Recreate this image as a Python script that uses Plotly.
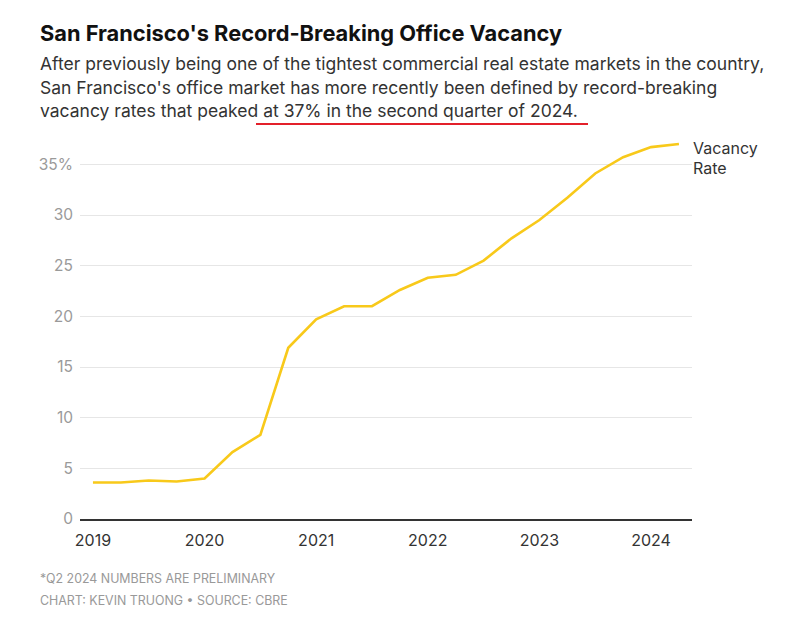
import plotly.graph_objects as go

quarters = ["2019 Q1", "2019 Q2", "2019 Q3", "2019 Q4",
            "2020 Q1", "2020 Q2", "2020 Q3", "2020 Q4",
            "2021 Q1", "2021 Q2", "2021 Q3", "2021 Q4",
            "2022 Q1", "2022 Q2", "2022 Q3", "2022 Q4",
            "2023 Q1", "2023 Q2", "2023 Q3", "2023 Q4",
            "2024 Q1", "2024 Q2"]
vacancy_rate = [3.6, 3.6, 3.8, 3.7,
                4.0, 6.6, 8.3, 16.9,
                19.7, 21.0, 21.0, 22.6,
                23.8, 24.1, 25.5, 27.7,
                29.5, 31.7, 34.1, 35.7,
                36.7, 37.0]
x_ticks = [2019, 2020, 2021, 2022, 2023, 2024]
y_ticks = [0, 5, 10, 15, 20, 25, 30, 35]
y_ticktext = ["0", "5", "10", "15", "20", "25", "30", "35%"]

xs = [int(q[:4]) + (int(q[-1]) - 1) / 4 for q in quarters]

# the page body adds an 8px offset; work in window pixels and shift
OFF = 8
W, H = 802 - OFF, 636 - OFF
L, R, T, B = 80 - OFF, 692 - OFF, 139 - OFF, 519 - OFF
FONT = "Inter"


def px(X):
    return (X - OFF - L) / (R - L)


def py(Y):
    return (B - (Y - OFF)) / (B - T)


fig = go.Figure()
fig.add_trace(go.Scatter(
    x=xs, y=vacancy_rate, mode="lines",
    line=dict(color="#F8C91A", width=2.6),
    hoverinfo="skip", showlegend=False,
))

annotations = []


def txt(text, X, Y, size, color, bold=False, anchor="left"):
    if bold:
        text = "<b>" + text + "</b>"
    annotations.append(dict(
        text=text, x=px(X), y=py(Y), xref="paper", yref="paper",
        xanchor=anchor, yanchor="middle", showarrow=False,
        font=dict(family=FONT, size=size, color=color),
    ))


txt("San Francisco's Record-Breaking Office Vacancy", 38, 33, 21.8, "#111111", bold=True)
txt("After previously being one of the tightest commercial real estate markets in the country,", 38, 63, 17.5, "#333333")
txt("San Francisco's office market has more recently been defined by record-breaking", 38, 87, 17.5, "#333333")
txt("vacancy rates that peaked at 37% in the second quarter of 2024.", 38, 110, 17.5, "#333333")
txt("*Q2 2024 NUMBERS ARE PRELIMINARY", 38, 578, 12.4, "#999999")
txt("CHART: KEVIN TRUONG \u2022 SOURCE: CBRE", 38, 600, 12.4, "#999999")
txt("Vacancy", 691, 148, 16, "#333333")
txt("Rate", 691, 168, 16, "#333333")

fig.update_layout(
    width=W, height=H,
    margin=dict(l=L, r=W - R, t=T, b=H - B, pad=0),
    paper_bgcolor="white", plot_bgcolor="white",
    font=dict(family=FONT),
    annotations=annotations,
    shapes=[dict(type="line", xref="paper", yref="paper",
                 x0=px(256), x1=px(588), y0=py(124), y1=py(124),
                 line=dict(color="#E3202A", width=2))],
    xaxis=dict(
        range=[2018.884, 2024.367], tickvals=x_ticks,
        ticktext=[str(v) for v in x_ticks],
        showgrid=False, zeroline=False,
        showline=True, linecolor="#333333", linewidth=1.5,
        ticks="", ticklabelstandoff=6,
        tickfont=dict(family=FONT, size=16, color="#333333"),
    ),
    yaxis=dict(
        range=[0, 37.5], tickvals=y_ticks, ticktext=y_ticktext,
        showgrid=True, gridcolor="#E6E6E6", gridwidth=1,
        zeroline=False, showline=False, ticks="",
        ticklabelstandoff=6,
        tickfont=dict(family=FONT, size=15.5, color="#9A9A9A"),
    ),
)

fig.write_html("out.html")
